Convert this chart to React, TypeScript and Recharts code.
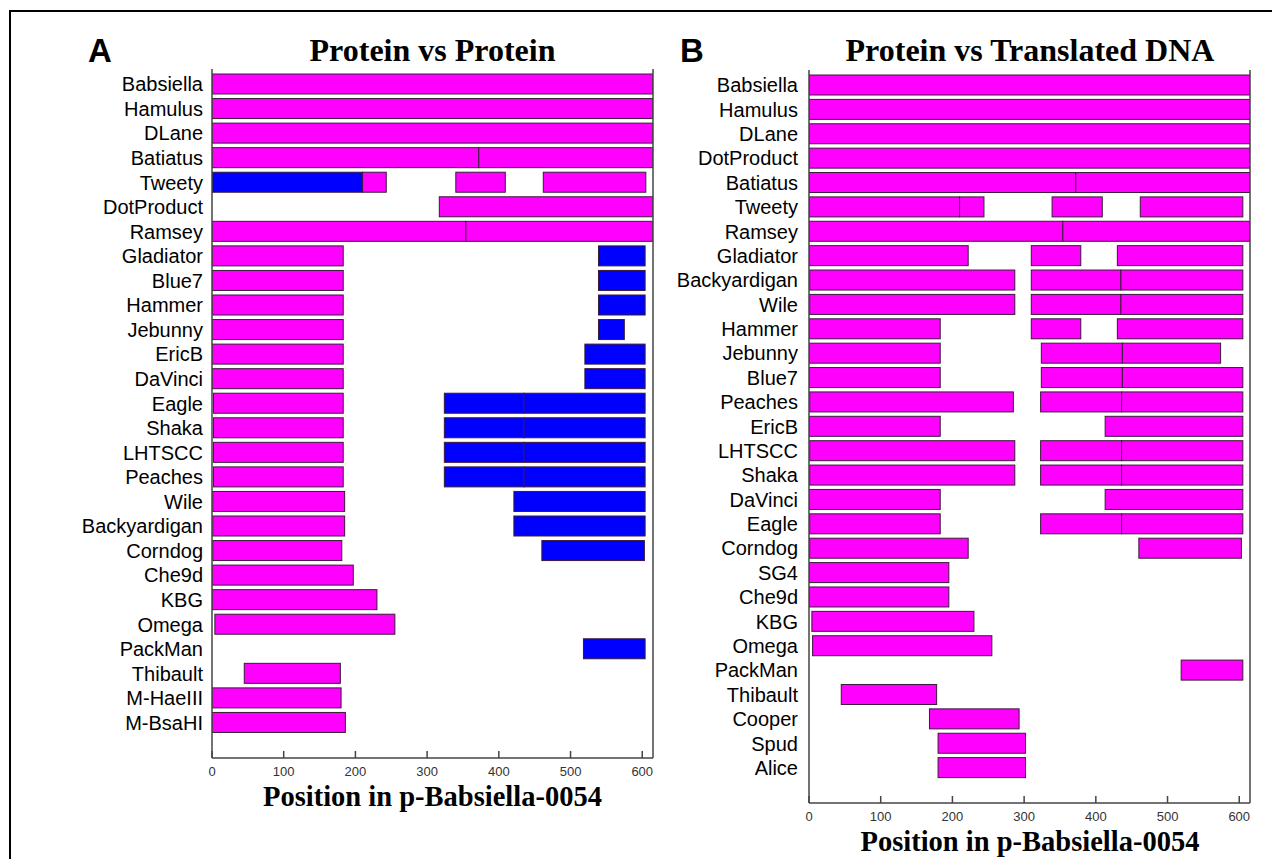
import React from "react";
import { BarChart, Bar, XAxis, YAxis } from "recharts";

// hit segments: [start, end, kind] where kind "p" = protein hit (magenta), "b" = blue hit
type Seg = [number, number, "p" | "b"];

const MAGENTA = "#ff00ff";
const BLUE = "#0000ff";
const FRAME = "#444";

const ticks = [0, 100, 200, 300, 400, 500, 600];
const domainMax = 615;

const namesA = [
  "Babsiella", "Hamulus", "DLane", "Batiatus", "Tweety", "DotProduct", "Ramsey",
  "Gladiator", "Blue7", "Hammer", "Jebunny", "EricB", "DaVinci", "Eagle", "Shaka",
  "LHTSCC", "Peaches", "Wile", "Backyardigan", "Corndog", "Che9d", "KBG", "Omega",
  "PackMan", "Thibault", "M-HaeIII", "M-BsaHI",
];

const hitsA: Seg[][] = [
  [[0, 615, "p"]],
  [[0, 615, "p"]],
  [[0, 615, "p"]],
  [[0, 372, "p"], [372, 615, "p"]],
  [[0, 210, "b"], [210, 243, "p"], [340, 409, "p"], [462, 605, "p"]],
  [[317, 615, "p"]],
  [[0, 354, "p"], [354, 615, "p"]],
  [[0, 183, "p"], [539, 604, "b"]],
  [[0, 183, "p"], [539, 604, "b"]],
  [[0, 183, "p"], [539, 604, "b"]],
  [[0, 183, "p"], [539, 575, "b"]],
  [[0, 183, "p"], [520, 604, "b"]],
  [[0, 183, "p"], [520, 604, "b"]],
  [[2, 183, "p"], [324, 435, "b"], [435, 604, "b"]],
  [[2, 183, "p"], [324, 435, "b"], [435, 604, "b"]],
  [[2, 183, "p"], [324, 435, "b"], [435, 604, "b"]],
  [[2, 183, "p"], [324, 435, "b"], [435, 604, "b"]],
  [[1, 185, "p"], [421, 604, "b"]],
  [[1, 185, "p"], [421, 604, "b"]],
  [[1, 181, "p"], [460, 603, "b"]],
  [[0, 197, "p"]],
  [[0, 230, "p"]],
  [[4, 255, "p"]],
  [[518, 604, "b"]],
  [[45, 179, "p"]],
  [[0, 180, "p"]],
  [[0, 186, "p"]],
];

const namesB = [
  "Babsiella", "Hamulus", "DLane", "DotProduct", "Batiatus", "Tweety", "Ramsey",
  "Gladiator", "Backyardigan", "Wile", "Hammer", "Jebunny", "Blue7", "Peaches",
  "EricB", "LHTSCC", "Shaka", "DaVinci", "Eagle", "Corndog", "SG4", "Che9d", "KBG",
  "Omega", "PackMan", "Thibault", "Cooper", "Spud", "Alice",
];

const hitsB: Seg[][] = [
  [[0, 615, "p"]],
  [[0, 615, "p"]],
  [[0, 615, "p"]],
  [[0, 615, "p"]],
  [[0, 372, "p"], [372, 615, "p"]],
  [[0, 210, "p"], [210, 244, "p"], [339, 409, "p"], [462, 605, "p"]],
  [[0, 354, "p"], [354, 615, "p"]],
  [[0, 222, "p"], [310, 379, "p"], [430, 605, "p"]],
  [[1, 287, "p"], [310, 435, "p"], [435, 605, "p"]],
  [[1, 287, "p"], [310, 435, "p"], [435, 605, "p"]],
  [[0, 183, "p"], [310, 379, "p"], [430, 605, "p"]],
  [[0, 183, "p"], [324, 437, "p"], [437, 574, "p"]],
  [[0, 183, "p"], [324, 437, "p"], [437, 605, "p"]],
  [[1, 285, "p"], [323, 436, "p"], [436, 605, "p"]],
  [[0, 183, "p"], [413, 605, "p"]],
  [[1, 287, "p"], [323, 436, "p"], [436, 605, "p"]],
  [[1, 287, "p"], [323, 436, "p"], [436, 605, "p"]],
  [[0, 183, "p"], [413, 605, "p"]],
  [[1, 183, "p"], [323, 436, "p"], [436, 605, "p"]],
  [[1, 222, "p"], [460, 603, "p"]],
  [[0, 195, "p"]],
  [[0, 195, "p"]],
  [[4, 230, "p"]],
  [[5, 255, "p"]],
  [[519, 605, "p"]],
  [[45, 178, "p"]],
  [[168, 293, "p"]],
  [[180, 302, "p"]],
  [[180, 302, "p"]],
];

const SLOTS = [0, 1, 2, 3];

function buildRows(names: string[], hits: Seg[][]) {
  return names.map((name, i) => {
    const row: any = { name };
    hits[i].forEach((s, j) => {
      row["s" + j] = [s[0], s[1]];
      row["c" + j] = s[2] === "b" ? BLUE : MAGENTA;
    });
    return row;
  });
}

const rowsA = buildRows(namesA, hitsA);
const rowsB = buildRows(namesB, hitsB);

const segShape = (slot: number) => (props: any) => {
  const { x, y, width, height, payload } = props;
  if (!payload || !payload["s" + slot] || !(width > 0)) return <g />;
  return (
    <rect
      x={x}
      y={y}
      width={width}
      height={height}
      fill={payload["c" + slot]}
      stroke="#3a1a3a"
      strokeWidth={1}
    />
  );
};

const BottomTick = (props: any) => {
  const { x, y, payload } = props;
  return (
    <g>
      <line x1={x} x2={x} y1={y} y2={y - 7} stroke={FRAME} strokeWidth={1.5} />
      <text
        x={x}
        y={y + 18}
        textAnchor="middle"
        fontSize={13}
        fill="#333"
        fontFamily="'Liberation Sans', Arial, sans-serif"
      >
        {payload.value}
      </text>
    </g>
  );
};

const TopTick = (props: any) => {
  const { x, y } = props;
  return <line x1={x} x2={x} y1={y} y2={y + 5} stroke={FRAME} strokeWidth={1.2} />;
};

interface PanelProps {
  rows: any[];
  width: number;
  height: number;
  labelWidth: number;
  margin: { top: number; right: number; bottom: number; left: number };
  labelGap: number;
}

function Panel({ rows, width, height, labelWidth, margin, labelGap }: PanelProps) {
  const pad = { top: 3, bottom: 23 };
  return (
    <BarChart
      width={width}
      height={height}
      data={rows}
      layout="vertical"
      margin={margin}
      barSize={20}
      barGap={-20}
    >
      <XAxis
        type="number"
        domain={[0, domainMax]}
        ticks={ticks}
        allowDataOverflow
        height={30}
        tickSize={0}
        tickMargin={0}
        tickLine={false}
        tick={BottomTick}
        axisLine={{ stroke: FRAME, strokeWidth: 1.5 }}
      />
      <XAxis
        xAxisId="top"
        orientation="top"
        type="number"
        domain={[0, domainMax]}
        ticks={ticks}
        allowDataOverflow
        height={0}
        tickSize={0}
        tickMargin={0}
        tickLine={false}
        tick={TopTick}
        axisLine={{ stroke: FRAME, strokeWidth: 1.5 }}
      />
      <YAxis
        type="category"
        dataKey="name"
        width={labelWidth}
        padding={pad}
        tickLine={false}
        tickSize={0}
        tickMargin={labelGap}
        interval={0}
        axisLine={{ stroke: FRAME, strokeWidth: 1.5 }}
        tick={{
          fontSize: 20,
          fill: "#000",
          fontFamily: "'Liberation Sans', Arial, sans-serif",
        }}
      />
      <YAxis
        yAxisId="r"
        orientation="right"
        type="category"
        dataKey="name"
        width={1}
        padding={pad}
        tick={false}
        tickLine={false}
        axisLine={{ stroke: FRAME, strokeWidth: 1.5 }}
      />
      {SLOTS.map((slot) => (
        <Bar
          key={slot}
          dataKey={"s" + slot}
          isAnimationActive={false}
          shape={segShape(slot)}
        />
      ))}
    </BarChart>
  );
}

const serif = "'Liberation Serif', 'Times New Roman', serif";
const sans = "'Liberation Sans', Arial, sans-serif";

export default function App() {
  return (
    <div
      style={{
        position: "fixed",
        left: 0,
        top: 0,
        width: 1272,
        height: 859,
        overflow: "hidden",
        background: "#fff",
      }}
    >
      <div
        style={{
          position: "absolute",
          left: 9,
          top: 10,
          width: 1300,
          height: 900,
          border: "2px solid #000",
        }}
      />
      <div style={{ position: "absolute", left: 0, top: 0 }}>
        <Panel
          rows={rowsA}
          width={680}
          height={800}
          labelWidth={212}
          labelGap={9}
          margin={{ top: 69, right: 26, bottom: 12, left: 0 }}
        />
      </div>
      <div style={{ position: "absolute", left: 600, top: 0 }}>
        <Panel
          rows={rowsB}
          width={672}
          height={859}
          labelWidth={209}
          labelGap={11}
          margin={{ top: 70, right: 21, bottom: 26, left: 0 }}
        />
      </div>
      <svg
        width={1272}
        height={859}
        style={{ position: "absolute", left: 0, top: 0, pointerEvents: "none" }}
      >
        <text x={88} y={62} fontFamily={sans} fontWeight="bold" fontSize={33}>
          A
        </text>
        <text x={680} y={62} fontFamily={sans} fontWeight="bold" fontSize={33}>
          B
        </text>
        <text x={432.5} y={61} textAnchor="middle" fontFamily={serif} fontWeight="bold" fontSize={32}>
          Protein vs Protein
        </text>
        <text x={1030} y={61} textAnchor="middle" fontFamily={serif} fontWeight="bold" fontSize={32}>
          Protein vs Translated DNA
        </text>
        <text x={432.5} y={806} textAnchor="middle" fontFamily={serif} fontWeight="bold" fontSize={28.5}>
          Position in p-Babsiella-0054
        </text>
        <text x={1030} y={851} textAnchor="middle" fontFamily={serif} fontWeight="bold" fontSize={28.5}>
          Position in p-Babsiella-0054
        </text>
      </svg>
    </div>
  );
}
